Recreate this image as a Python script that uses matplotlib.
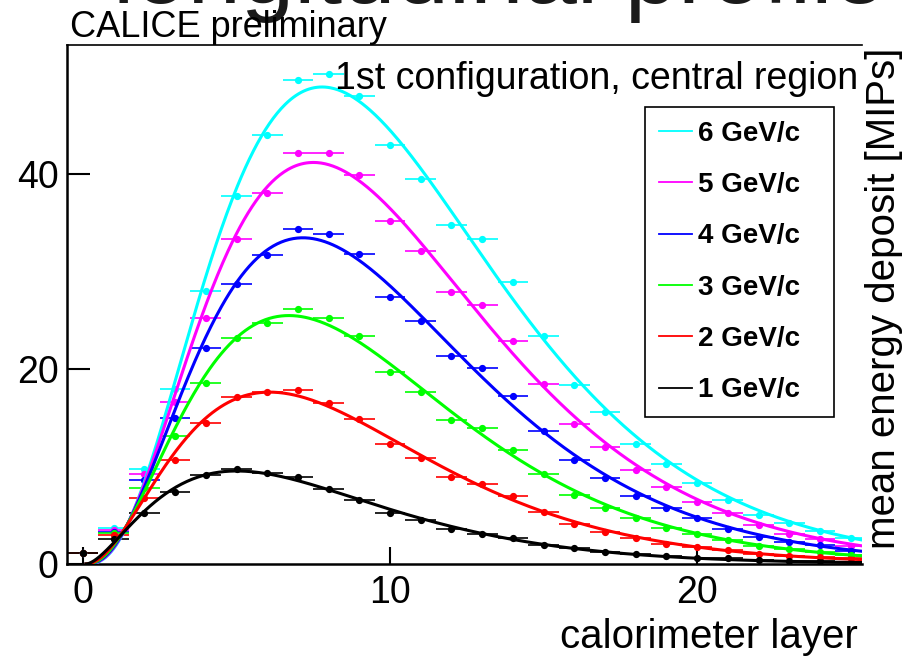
import numpy as np
import matplotlib.pyplot as plt
from matplotlib.lines import Line2D

plt.rcParams['font.family'] = ['Liberation Sans', 'DejaVu Sans']

# layer numbers and mean energy per layer [MIPs]
layers = np.arange(26)
e1 = [1.1, 2.6, 5.2, 7.4, 9.15, 9.7, 9.3, 8.9, 7.7, 6.6, 5.2, 4.5, 3.6, 3.1, 2.7, 1.9, 1.6, 1.25, 1.0, 0.8, 0.65, 0.58, 0.4, 0.35, 0.3, 0.25]
e2 = [1.1, 3.0, 6.8, 10.7, 14.5, 17.1, 17.6, 17.8, 16.5, 14.9, 12.3, 10.85, 8.9, 8.2, 7.0, 5.3, 4.15, 3.3, 2.7, 2.1, 1.77, 1.43, 1.0, 0.82, 0.68, 0.58]
e3 = [1.1, 3.2, 7.8, 13.1, 18.6, 23.2, 24.7, 26.1, 25.2, 23.4, 19.7, 17.6, 14.8, 13.9, 11.7, 9.2, 7.1, 5.75, 4.7, 3.7, 3.1, 2.45, 1.87, 1.5, 1.25, 0.9]
e4 = [1.1, 3.3, 8.6, 15.0, 22.1, 28.7, 31.7, 34.3, 33.8, 31.8, 27.4, 24.9, 21.3, 20.1, 17.2, 13.6, 10.7, 8.8, 7.0, 5.7, 4.7, 3.6, 2.8, 2.3, 1.9, 1.35]
e5 = [1.1, 3.5, 9.25, 16.6, 25.2, 33.3, 38.0, 42.1, 42.1, 39.9, 35.2, 32.1, 27.9, 26.6, 22.9, 18.4, 14.4, 12.0, 9.6, 7.9, 6.4, 5.2, 4.0, 3.1, 2.6, 1.8]
e6 = [1.1, 3.7, 9.7, 17.9, 28.0, 37.7, 44.0, 49.6, 50.2, 48.0, 42.9, 39.5, 34.8, 33.3, 28.9, 23.4, 18.3, 15.6, 12.3, 10.2, 8.3, 6.6, 5.0, 4.2, 3.4, 2.7]

labels = ['6 GeV/c', '5 GeV/c', '4 GeV/c', '3 GeV/c', '2 GeV/c', '1 GeV/c']
series = [e6, e5, e4, e3, e2, e1]
colors = ['#00FFFF', '#FF00FF', '#0000FF', '#00FF00', '#FF0000', '#000000']

x0 = 0.1  # shower start offset for the fit


def fit_profile(x, y):
    # gamma-like profile: ln E = c0 + c1 ln(t) - c2 t, weighted by E
    t = x - x0
    A = np.column_stack([np.ones_like(t), np.log(t), -t])
    coef = np.linalg.lstsq(A * y[:, None], np.log(y) * y, rcond=None)[0]
    return coef


fig = plt.figure(figsize=(9.08, 6.6), dpi=100)
ax = fig.add_axes([67/908, 96/660, 795/908, 519/660])

xs = np.linspace(x0 + 1e-3, 26, 600)
handles = []
for vals, col, lab in zip(series, colors, labels):
    vals = np.array(vals)
    ax.errorbar(layers, vals, xerr=0.5, fmt='o', ms=4.2, color=col,
                elinewidth=1.2, capsize=0, zorder=2)
    c = fit_profile(layers[1:].astype(float), vals[1:])
    ts = xs - x0
    ax.plot(xs, np.exp(c[0] + c[1]*np.log(ts) - c[2]*ts), color=col, lw=2.2, zorder=3)
    handles.append(Line2D([], [], color=col, lw=1.3))

ax.set_xlim(-0.52, 25.37)
ax.set_ylim(0, 53.2)
ax.set_xticks([0, 10, 20])
ax.set_yticks([0, 20, 40])
ax.tick_params(axis='x', direction='in', length=12, width=1.5, pad=8, labelsize=27)
ax.tick_params(axis='y', direction='in', length=16.5, width=1.5, pad=6, labelsize=27)
ax.spines['right'].set_visible(False)
ax.spines['left'].set_linewidth(1.8)
ax.spines['bottom'].set_linewidth(1.8)
ax.spines['top'].set_linewidth(1.2)

leg = ax.legend(handles, labels, loc='upper left', mode='expand',
                bbox_to_anchor=(645/908, 247/660, 189/908, 306/660),
                bbox_transform=fig.transFigure, prop={'weight': 'bold', 'size': 20},
                frameon=True, fancybox=False, framealpha=1, edgecolor='black',
                borderpad=0.5, labelspacing=0.91, handlelength=1.2, handletextpad=0.22,
                borderaxespad=0)
leg.get_frame().set_linewidth(1.2)

fig.text(499/908, 1 - 3/660, 'longitudinal profile', ha='center', va='baseline',
         fontsize=69, color='#1a1a1a')
fig.text(70/908, 1 - 37/660, 'CALICE preliminary', ha='left', va='baseline', fontsize=26)
fig.text(858/908, 1 - 89/660, '1st configuration, central region', ha='right',
         va='baseline', fontsize=27)
fig.text(858/908, 1 - 648/660, 'calorimeter layer', ha='right', va='baseline', fontsize=29)
fig.text(884/908, 1 - 298/660, 'mean energy deposit [MIPs]', rotation=90,
         ha='center', va='center', fontsize=29)

fig.savefig('out.png', dpi=100, facecolor='white')
